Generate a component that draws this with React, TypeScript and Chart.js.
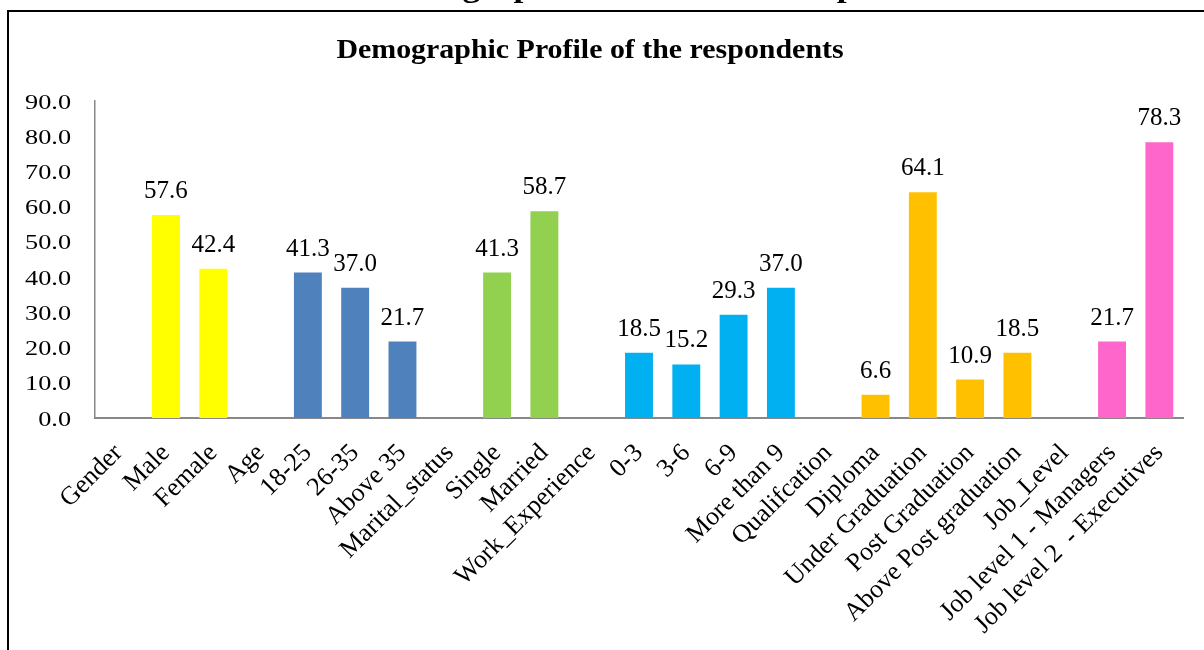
import React, { useEffect, useRef } from 'react';
import { Chart, registerables } from 'chart.js';

Chart.register(...registerables);

const titleText = 'Demographic Profile of the respondents';

const categories = [
  'Gender', 'Male', 'Female', 'Age', '18-25', '26-35', 'Above 35', 'Marital_status',
  'Single', 'Married', 'Work_Experience', '0-3', '3-6', '6-9', 'More than 9',
  'Qualifcation', 'Diploma', 'Under Graduation', 'Post Graduation', 'Above Post graduation',
  'Job_Level', 'Job level 1 - Managers', 'Job level 2  - Executives',
];

const values: (number | null)[] = [
  null, 57.6, 42.4, null, 41.3, 37.0, 21.7, null,
  41.3, 58.7, null, 18.5, 15.2, 29.3, 37.0,
  null, 6.6, 64.1, 10.9, 18.5,
  null, 21.7, 78.3,
];

const yMin = 0;
const yMax = 90;
const yStep = 10;

const YELLOW = '#FFFF00';
const BLUE = '#4F81BD';
const GREEN = '#92D050';
const CYAN = '#00B0F0';
const ORANGE = '#FFC000';
const PINK = '#FF66CC';

const barColors = [
  YELLOW, YELLOW, YELLOW, BLUE, BLUE, BLUE, BLUE, GREEN,
  GREEN, GREEN, CYAN, CYAN, CYAN, CYAN, CYAN,
  ORANGE, ORANGE, ORANGE, ORANGE, ORANGE,
  PINK, PINK, PINK,
];

const SERIF = '"Liberation Serif", "Times New Roman", Times, serif';

function stretchedText(ctx: any, text: string, x: number, y: number, sx: number, align: string) {
  ctx.save();
  ctx.translate(x, y);
  ctx.scale(sx, 1);
  ctx.textAlign = align;
  ctx.textBaseline = 'alphabetic';
  ctx.fillText(text, 0, 0);
  ctx.restore();
}

const decorPlugin = {
  id: 'decor',
  beforeDraw(chart: any) {
    const ctx = chart.ctx;
    ctx.save();
    ctx.fillStyle = '#ffffff';
    ctx.fillRect(0, 0, chart.width, chart.height);
    ctx.fillStyle = '#000000';
    ctx.fillRect(7, 10, 2, chart.height - 10);
    ctx.fillRect(7, 10, chart.width - 7, 2);
    // caption above the frame (cut off by the page top)
    ctx.font = `bold 30px ${SERIF}`;
    stretchedText(ctx, titleText, 374, -3.5, 1.18, 'left');
    // chart title
    ctx.font = `bold 28px ${SERIF}`;
    stretchedText(ctx, titleText, 590, 58, 1.068, 'center');
    ctx.restore();
  },
  afterDatasetsDraw(chart: any) {
    const ctx = chart.ctx;
    ctx.save();
    ctx.fillStyle = '#000000';
    // y tick labels
    const ys = chart.scales.y;
    ctx.font = `21px ${SERIF}`;
    ys.ticks.forEach((t: any) => {
      const py = ys.getPixelForValue(t.value);
      stretchedText(ctx, Number(t.value).toFixed(1), 71, py + 7.5, 1.25, 'right');
    });
    // value labels
    const meta = chart.getDatasetMeta(0);
    ctx.font = `25px ${SERIF}`;
    ctx.textAlign = 'center';
    ctx.textBaseline = 'alphabetic';
    meta.data.forEach((el: any, i: number) => {
      const v = values[i];
      if (v === null || v === undefined) return;
      ctx.fillText(v.toFixed(1), el.x, el.y - 17);
    });
    ctx.restore();
  },
};

export default function App() {
  const canvasRef = useRef<HTMLCanvasElement | null>(null);

  useEffect(() => {
    const canvas = canvasRef.current;
    if (!canvas) return;
    const chart = new Chart(canvas, {
      type: 'bar',
      data: {
        labels: categories,
        datasets: [
          {
            data: values as any,
            backgroundColor: barColors,
            borderWidth: 0,
            barPercentage: 0.59,
            categoryPercentage: 1,
          },
        ],
      },
      options: {
        animation: false,
        responsive: false,
        devicePixelRatio: 1,
        layout: { padding: { left: 9, right: 21, top: 101, bottom: 0 } },
        plugins: {
          legend: { display: false },
          tooltip: { enabled: false },
          title: { display: false },
        },
        scales: {
          x: {
            grid: { display: false },
            border: { display: true, color: '#888888', width: 2 },
            ticks: {
              color: '#000000',
              font: { family: SERIF, size: 26 },
              maxRotation: 45,
              minRotation: 45,
              autoSkip: false,
              padding: 12,
            },
            afterFit: (s: any) => {
              s.height = 650 - 418;
            },
          },
          y: {
            min: yMin,
            max: yMax,
            grid: { display: false },
            border: { display: true, color: '#888888', width: 1.5 },
            ticks: {
              stepSize: yStep,
              display: false,
            },
            afterFit: (s: any) => {
              s.width = 86;
            },
          },
        },
      },
      plugins: [decorPlugin],
    });
    return () => chart.destroy();
  }, []);

  return (
    <div style={{ position: 'fixed', left: 0, top: 0, width: 1204, height: 650, background: '#fff' }}>
      <canvas ref={canvasRef} width={1204} height={650} style={{ display: 'block', width: 1204, height: 650 }} />
    </div>
  );
}
